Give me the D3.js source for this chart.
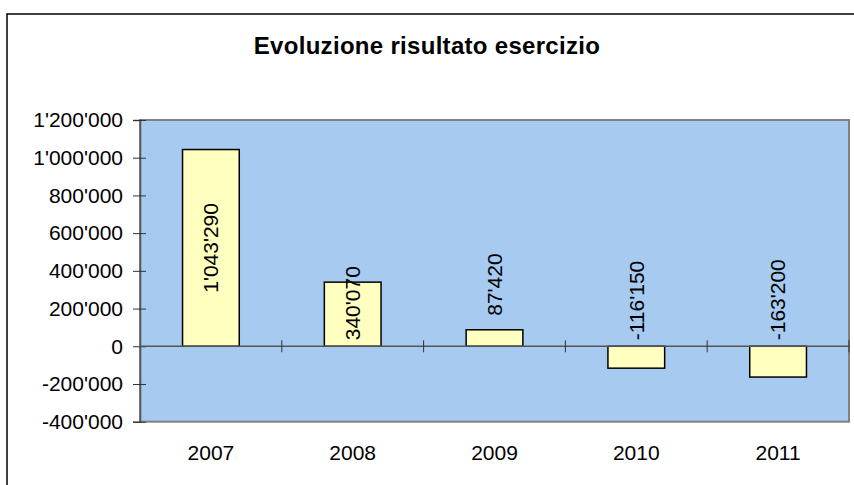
<!DOCTYPE html>
<html>
<head>
<meta charset="utf-8">
<script src="https://cdn.jsdelivr.net/npm/d3@7"></script>
<style>
  body { margin: 0; background: #fff; }
  text { font-family: "Liberation Sans", Arial, sans-serif; fill: #000; }
</style>
</head>
<body>
<svg width="854" height="485"></svg>
<script>
var years = ["2007", "2008", "2009", "2010", "2011"]
var results = [1043290, 340070, 87420, -116150, -163200]
var yTicks = [-400000, -200000, 0, 200000, 400000, 600000, 800000, 1000000, 1200000]
// where excel put each rotated data label
var labelPlace = ["inside", "base", "end", "base", "base"]

var chartTitle = "Evoluzione risultato esercizio"

function draw_chart() {
    var svg = d3.select("svg"),
        margin = { top: 120, right: 5, bottom: 63.3, left: 140 },
        width = svg.attr("width") - margin.left - margin.right,
        height = svg.attr("height") - margin.top - margin.bottom

    var loc = d3.formatLocale({ decimal: ".", thousands: "'", grouping: [3], currency: ["", ""], minus: "-" })
    var fmt = loc.format(",d")

    // outer chart frame
    svg.append("rect")
        .attr("x", 7).attr("y", 14)
        .attr("width", 900).attr("height", 500)
        .attr("fill", "none")
        .attr("stroke", "#000")
        .attr("stroke-width", 1.5)

    svg.append("text")
        .attr("x", 427)
        .attr("y", 54)
        .attr("text-anchor", "middle")
        .style("font-size", "24px")
        .style("font-weight", "bold")
        .style("letter-spacing", "0.3px")
        .text(chartTitle)

    var g = svg.append("g").attr("transform", "translate(" + margin.left + "," + margin.top + ")")

    var x = d3.scaleBand()
        .domain(years)
        .range([0, width])
        .paddingInner(0.6)
        .paddingOuter(0.3)

    var y = d3.scaleLinear()
        .domain([yTicks[0], yTicks[yTicks.length - 1]])
        .range([height, 0])

    g.append("rect")
        .attr("width", width)
        .attr("height", height)
        .attr("fill", "#a6caf0")
        .attr("stroke", "#808080")
        .attr("stroke-width", 2)

    // y axis with crossing ticks
    var yAxis = g.append("g")
        .call(d3.axisLeft(y).tickValues(yTicks).tickSize(7).tickPadding(10).tickFormat(fmt))
    yAxis.select(".domain").attr("stroke", "#555").attr("stroke-width", 1.5)
    yAxis.selectAll(".tick line").attr("x2", -7).attr("x1", 6).attr("stroke", "#333")
    yAxis.selectAll(".tick text").style("font-size", "21px").attr("fill", "#000")

    // bars
    g.selectAll(".bar")
        .data(results)
        .enter().append("rect")
        .attr("class", "bar")
        .attr("x", function (d, i) { return x(years[i]) })
        .attr("y", function (d) { return y(Math.max(0, d)) })
        .attr("width", x.bandwidth())
        .attr("height", function (d) { return Math.abs(y(d) - y(0)) })
        .attr("fill", "#ffffc0")
        .attr("stroke", "#000")
        .attr("stroke-width", 1.5)

    // zero line with category ticks
    g.append("line")
        .attr("x1", 0).attr("x2", width)
        .attr("y1", y(0)).attr("y2", y(0))
        .attr("stroke", "#555")
        .attr("stroke-width", 1.5)

    var step = x.step()
    g.selectAll(".cat-tick")
        .data(years)
        .enter().append("line")
        .attr("class", "cat-tick")
        .attr("x1", function (d) { return x(d) + x.bandwidth() / 2 + step / 2 })
        .attr("x2", function (d) { return x(d) + x.bandwidth() / 2 + step / 2 })
        .attr("y1", y(0) - 6)
        .attr("y2", y(0) + 6)
        .attr("stroke", "#333")
        .attr("stroke-width", 1)

    // x labels
    g.selectAll(".xlab")
        .data(years)
        .enter().append("text")
        .attr("class", "xlab")
        .attr("x", function (d) { return x(d) + x.bandwidth() / 2 })
        .attr("y", height + 38.5)
        .attr("text-anchor", "middle")
        .style("font-size", "21px")
        .text(function (d) { return d })

    // rotated data labels
    g.selectAll(".vlab")
        .data(results)
        .enter().append("text")
        .attr("class", "vlab")
        .attr("transform", function (d, i) {
            var cx = x(years[i]) + x.bandwidth() / 2
            var cy
            if (labelPlace[i] == "inside") cy = (y(d) + y(0)) / 2
            else if (labelPlace[i] == "end") cy = y(d) - 14
            else cy = y(0) - 6
            return "translate(" + cx + "," + cy + ") rotate(-90)"
        })
        .attr("dy", "0.35em")
        .attr("text-anchor", function (d, i) { return labelPlace[i] == "inside" ? "middle" : "start" })
        .style("font-size", "21px")
        .text(function (d) { return fmt(d) })
}

draw_chart()
</script>
</body>
</html>
